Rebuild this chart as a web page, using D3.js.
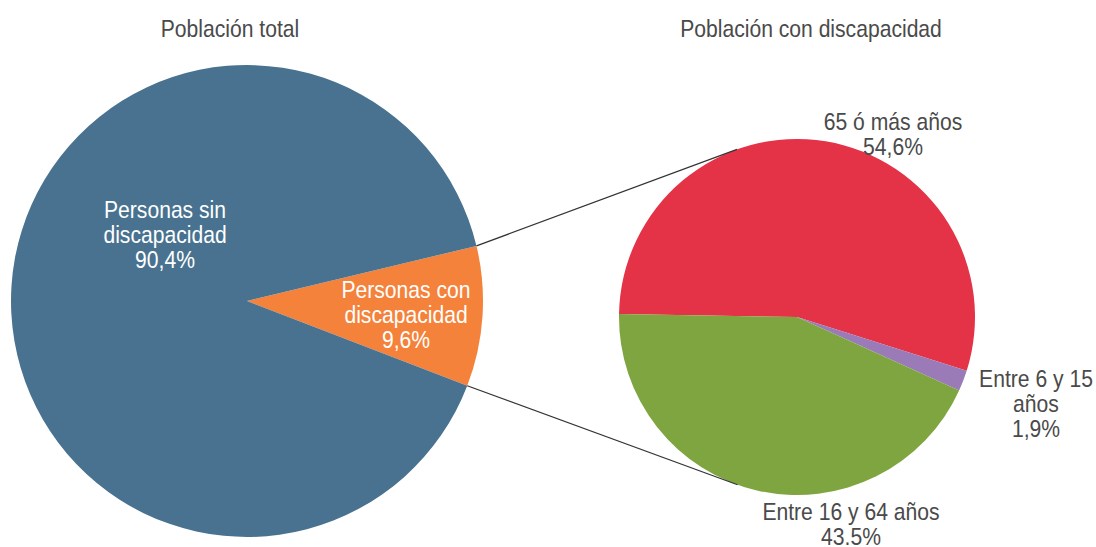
<!DOCTYPE html>
<html>
<head>
<meta charset="utf-8">
<script src="https://cdn.jsdelivr.net/npm/d3@7"></script>
<style>
  body { margin: 0; background: #fff; }
  text { font-family: "Liberation Sans", Arial, sans-serif; }
</style>
</head>
<body>
<div id="chart"></div>
<script>
// data
const totalLabels = ["Personas con\ndiscapacidad\n9,6%", "Personas sin\ndiscapacidad\n90,4%"]
const totalValues = [9.6, 90.4]
const discLabels = ["65 ó más años\n54,6%", "Entre 6 y 15\naños\n1,9%", "Entre 16 y 64 años\n43.5%"]
const discValues = [54.6, 1.9, 43.5]
const titles = ["Población total", "Población con discapacidad"]

const totalColors = ["#f4823a", "#48728f"]
const discColors = ["#e43246", "#9a7bb8", "#7ea53f"]

const width = 1096
const height = 547

// font is condensed in the original, squeeze it a bit
const squeeze = 0.88

const svg = d3.select("#chart")
  .append("svg")
    .attr("width", width)
    .attr("height", height)

// left pie
const c1 = { x: 247, y: 301, r: 236 }
// right pie
const c2 = { x: 797, y: 317, r: 178 }

const deg = Math.PI / 180

const pie1 = d3.pie().sort(null)
  .startAngle(76.5 * deg)
  .endAngle(76.5 * deg + 2 * Math.PI)
const pie2 = d3.pie().sort(null)
  .startAngle(-89 * deg)
  .endAngle(-89 * deg + 2 * Math.PI)

const arcs1 = pie1(totalValues)
const arcs2 = pie2(discValues)

const g1 = svg.append("g").attr("transform", `translate(${c1.x},${c1.y})`)
g1.selectAll("path")
  .data(arcs1)
  .join("path")
    .attr("d", d3.arc().innerRadius(0).outerRadius(c1.r))
    .attr("fill", (d, i) => totalColors[i])

const g2 = svg.append("g").attr("transform", `translate(${c2.x},${c2.y})`)
g2.selectAll("path")
  .data(arcs2)
  .join("path")
    .attr("d", d3.arc().innerRadius(0).outerRadius(c2.r))
    .attr("fill", (d, i) => discColors[i])

// connector lines from orange slice edges to right pie
const polar = (c, a, r) => [c.x + r * Math.sin(a), c.y - r * Math.cos(a)]
const orange = arcs1[0]
const lines = [
  [polar(c1, orange.startAngle, c1.r), polar(c2, -19.7 * deg, c2.r)],
  [polar(c1, orange.endAngle, c1.r), polar(c2, 199.5 * deg, c2.r)]
]
svg.selectAll("line.link")
  .data(lines)
  .join("line")
    .attr("class", "link")
    .attr("x1", d => d[0][0]).attr("y1", d => d[0][1])
    .attr("x2", d => d[1][0]).attr("y2", d => d[1][1])
    .attr("stroke", "#333")
    .attr("stroke-width", 1.2)

// titles
svg.selectAll("text.title")
  .data(titles)
  .join("text")
    .attr("class", "title")
    .attr("transform", (d, i) => `translate(${i == 0 ? 230 : 811},37) scale(${squeeze},1)`)
    .attr("text-anchor", "middle")
    .attr("font-size", 24)
    .attr("fill", "#4a4a4a")
    .text(d => d)

// label offsets from pie centres (layout only)
const totalLabelPos = [[159, -3], [-82, -83]]
const discLabelPos = [[96, -187], [239, 70], [54, 203]]

function addLabels(c, labels, pos, fills) {
  labels.forEach((lab, i) => {
    const t = svg.append("text")
      .attr("text-anchor", "middle")
      .attr("font-size", 24)
      .attr("fill", fills[i])
      .attr("transform", `translate(${c.x + pos[i][0]},${c.y + pos[i][1]}) scale(${squeeze},1)`)
    lab.split("\n").forEach((line, j) => {
      t.append("tspan")
        .attr("x", 0)
        .attr("y", j * 25)
        .text(line)
    })
  })
}

addLabels(c1, totalLabels, totalLabelPos, ["#fff", "#fff"])
addLabels(c2, discLabels, discLabelPos, ["#4a4a4a", "#4a4a4a", "#4a4a4a"])
</script>
</body>
</html>
